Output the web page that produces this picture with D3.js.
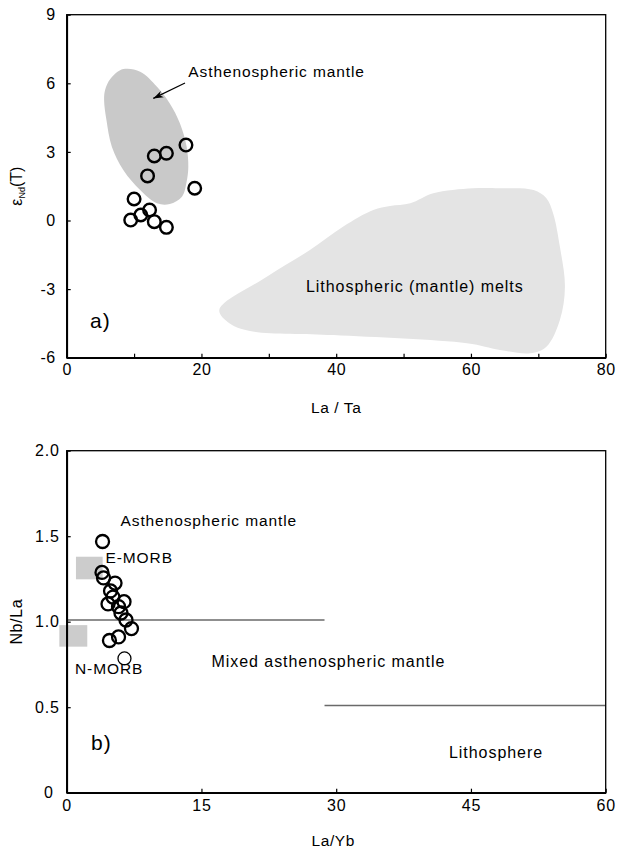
<!DOCTYPE html>
<html>
<head>
<meta charset="utf-8">
<script src="https://cdn.jsdelivr.net/npm/d3@7"></script>
<style>
  html, body { margin: 0; padding: 0; background: #fff; }
  svg text { font-family: "Liberation Sans", Arial, sans-serif; fill: #000; }
</style>
</head>
<body>
<svg id="chart" width="617" height="851"></svg>
<script>
// ---- Panel a: epsilon Nd(T) vs La/Ta ----
const laTa   = [17.7, 14.8, 13.0, 12.0, 19.0, 10.0, 12.3, 11.0, 9.5, 13.0, 14.8];
const epsNd  = [3.30, 2.94, 2.82, 1.95, 1.41, 0.94, 0.46, 0.24, 0.02, -0.05, -0.30];

// Asthenospheric mantle field outline (La/Ta, eNd)
const asthenoX = [8.4, 10.9, 13.4, 15.3, 16.8, 17.8, 18.05, 17.8, 17.1, 15.3, 13.4, 10.9, 8.4, 6.7, 5.9, 5.55, 5.7, 6.5];
const asthenoY = [6.62, 6.51, 5.85, 5.12, 4.25, 3.23, 2.35, 1.70, 1.04, 0.72, 0.75, 1.33, 2.21, 3.23, 4.39, 5.27, 5.71, 6.20];

// Lithospheric (mantle) melts field outline
const lithoX = [22.65, 24.2, 27.2, 39.6, 59.4, 64.3, 68.8, 71.2, 73.2, 73.95, 73.2, 72.2, 71.2, 69.3, 64.3, 60.3, 54.4, 51.0, 48.0, 45.5, 41.0, 36.1, 29.7];
const lithoY = [-3.91, -4.50, -4.83, -5.01, -5.37, -5.66, -5.81, -5.52, -4.35, -2.89, -1.15, 0.31, 0.97, 1.33, 1.41, 1.41, 1.19, 0.75, 0.63, 0.46, -0.27, -1.29, -2.46];

const xTicksA = [0, 10, 20, 30, 40, 50, 60, 70, 80];
const yTicksA = [9, 6, 3, 0, -3, -6];

// ---- Panel b: Nb/La vs La/Yb ----
const laYb = [3.99, 3.93, 4.10, 5.38, 4.88, 5.15, 4.60, 6.38, 5.77, 6.04, 6.60, 7.21, 4.76, 5.77, 6.43];
const nbLa = [1.469, 1.288, 1.256, 1.226, 1.180, 1.144, 1.104, 1.117, 1.088, 1.051, 1.010, 0.960, 0.890, 0.911, 0.785];

// Reference boxes: [La/Yb min, La/Yb max, Nb/La min, Nb/La max]
const morbNames = ["E-MORB", "N-MORB"];
const morbBoxes = [[1.03, 4.0, 1.248, 1.38], [-0.82, 2.29, 0.854, 0.98]];

// Boundary lines: [La/Yb start, La/Yb end, Nb/La]
const boundaries = [[0, 28.7, 1.01], [28.7, 60, 0.51]];

const xTicksB = [0, 15, 30, 45, 60];
const yTicksB = [2.0, 1.5, 1.0, 0.5, 0];

const svg = d3.select("#chart");
const left = 66.7, right = 605.7;

// ---------- Panel a ----------
const xA = d3.scaleLinear().domain([0, 80]).range([left, right]);
const yA = d3.scaleLinear().domain([-6, 9]).range([357.7, 14.7]);
const gA = svg.append("g");

const closedCurve = d3.line().curve(d3.curveCatmullRomClosed.alpha(0.5));

gA.append("path")
  .attr("d", closedCurve(lithoX.map((x, i) => [xA(x), yA(lithoY[i])])))
  .attr("fill", "#e4e4e4");
gA.append("path")
  .attr("d", closedCurve(asthenoX.map((x, i) => [xA(x), yA(asthenoY[i])])))
  .attr("fill", "#c9c9c9");

// frame
gA.append("rect")
  .attr("x", left).attr("y", yA(9))
  .attr("width", right - left).attr("height", yA(-6) - yA(9))
  .attr("fill", "none").attr("stroke", "#000").attr("stroke-width", 1.3);

const axA = gA.append("g").attr("transform", `translate(0,${yA(-6)})`)
  .call(d3.axisBottom(xA).tickValues(xTicksA).tickSizeInner(-4).tickSizeOuter(0).tickPadding(6)
    .tickFormat(d => d % 20 === 0 ? String(d) : ""));
const ayA = gA.append("g").attr("transform", `translate(${left},0)`)
  .call(d3.axisLeft(yA).tickValues(yTicksA).tickSizeInner(-4).tickSizeOuter(0).tickPadding(11)
    .tickFormat(d => String(d)));

[axA, ayA].forEach(a => {
  a.select(".domain").attr("stroke", "#000").attr("stroke-width", 1.8);
  a.selectAll(".tick line").attr("stroke", "#000").attr("stroke-width", 1.2);
  a.selectAll(".tick text").attr("font-size", 16).attr("letter-spacing", 0.5)
    .attr("font-family", "Liberation Sans, Arial, sans-serif");
});

gA.selectAll("circle.pt").data(laTa).join("circle")
  .attr("class", "pt")
  .attr("cx", d => xA(d)).attr("cy", (d, i) => yA(epsNd[i]))
  .attr("r", 6.3).attr("fill", "none").attr("stroke", "#000").attr("stroke-width", 2.4);

// arrow pointing to the asthenospheric field
const arrowFrom = [xA(17.56), yA(6.01)], arrowTo = [xA(12.85), yA(5.34)];
gA.append("line")
  .attr("x1", arrowFrom[0]).attr("y1", arrowFrom[1])
  .attr("x2", arrowTo[0]).attr("y2", arrowTo[1])
  .attr("stroke", "#000").attr("stroke-width", 1.2);
{
  const ang = Math.atan2(arrowTo[1] - arrowFrom[1], arrowTo[0] - arrowFrom[0]);
  const len = 10, half = 3.5;
  const bx = arrowTo[0] - len * Math.cos(ang), by = arrowTo[1] - len * Math.sin(ang);
  const px = -Math.sin(ang) * half, py = Math.cos(ang) * half;
  gA.append("path")
    .attr("d", `M${arrowTo[0]},${arrowTo[1]} L${bx + px},${by + py} L${bx + 3 * Math.cos(ang)},${by + 3 * Math.sin(ang)} L${bx - px},${by - py} Z`)
    .attr("fill", "#000");
}

gA.append("text").attr("x", 188.3).attr("y", 76.5)
  .attr("font-size", 15.5).attr("letter-spacing", 0.9).text("Asthenospheric mantle");
gA.append("text").attr("x", 306).attr("y", 291.5)
  .attr("font-size", 16).attr("letter-spacing", 0.95).text("Lithospheric (mantle) melts");
gA.append("text").attr("x", 90).attr("y", 328)
  .attr("font-size", 21).attr("letter-spacing", 1).text("a)");

gA.append("text").attr("x", (left + right) / 2).attr("y", 413)
  .attr("text-anchor", "middle").attr("font-size", 15.5).attr("letter-spacing", 0.6).text("La / Ta");

const yTitleA = gA.append("text")
  .attr("transform", `translate(22,${(yA(9) + yA(-6)) / 2}) rotate(-90)`)
  .attr("text-anchor", "middle").attr("font-size", 16);
yTitleA.append("tspan").text("ε");
yTitleA.append("tspan").attr("font-size", 9).attr("dy", 3).text("Nd");
yTitleA.append("tspan").attr("dy", -3).text("(T)");

// ---------- Panel b ----------
const xB = d3.scaleLinear().domain([0, 60]).range([left, right]);
const yB = d3.scaleLinear().domain([0, 2]).range([792.7, 450.7]);
const gB = svg.append("g");

gB.selectAll("rect.morb").data(morbBoxes).join("rect")
  .attr("class", "morb")
  .attr("x", d => xB(d[0])).attr("y", d => yB(d[3]))
  .attr("width", d => xB(d[1]) - xB(d[0])).attr("height", d => yB(d[2]) - yB(d[3]))
  .attr("fill", "#cccccc");

gB.selectAll("line.bound").data(boundaries).join("line")
  .attr("class", "bound")
  .attr("x1", d => xB(d[0])).attr("x2", d => xB(d[1]))
  .attr("y1", d => yB(d[2])).attr("y2", d => yB(d[2]))
  .attr("stroke", "#6a6a6a").attr("stroke-width", 1.4);

gB.append("rect")
  .attr("x", left).attr("y", yB(2))
  .attr("width", right - left).attr("height", yB(0) - yB(2))
  .attr("fill", "none").attr("stroke", "#000").attr("stroke-width", 1.3);

const axB = gB.append("g").attr("transform", `translate(0,${yB(0)})`)
  .call(d3.axisBottom(xB).tickValues(xTicksB).tickSizeInner(-4).tickSizeOuter(0).tickPadding(7)
    .tickFormat(d => String(d)));
const ayB = gB.append("g").attr("transform", `translate(${left},0)`)
  .call(d3.axisLeft(yB).tickValues(yTicksB).tickSizeInner(-4).tickSizeOuter(0).tickPadding(7)
    .tickFormat(d => d === 0 ? "0" : d3.format(".1f")(d)));

[axB, ayB].forEach(a => {
  a.select(".domain").attr("stroke", "#000").attr("stroke-width", 1.8);
  a.selectAll(".tick line").attr("stroke", "#000").attr("stroke-width", 1.2);
  a.selectAll(".tick text").attr("font-size", 16).attr("letter-spacing", 0.8)
    .attr("font-family", "Liberation Sans, Arial, sans-serif");
});
ayB.selectAll(".tick text").filter(d => d === 0).attr("x", -13);

gB.selectAll("circle.pt").data(laYb).join("circle")
  .attr("class", "pt")
  .attr("cx", d => xB(d)).attr("cy", (d, i) => yB(nbLa[i]))
  .attr("r", 6.5).attr("fill", "none").attr("stroke", "#000")
  .attr("stroke-width", (d, i) => i === laYb.length - 1 ? 1.3 : 2.3);

gB.append("text").attr("x", 120.5).attr("y", 526)
  .attr("font-size", 15.5).attr("letter-spacing", 0.9).text("Asthenospheric mantle");
gB.append("text").attr("x", 105.5).attr("y", 562.5)
  .attr("font-size", 15.5).attr("letter-spacing", 0.9).text(morbNames[0]);
gB.append("text").attr("x", 75).attr("y", 673.5)
  .attr("font-size", 15.5).attr("letter-spacing", 0.9).text(morbNames[1]);
gB.append("text").attr("x", 211.5).attr("y", 667)
  .attr("font-size", 16).attr("letter-spacing", 0.95).text("Mixed asthenospheric mantle");
gB.append("text").attr("x", 449).attr("y", 757.5)
  .attr("font-size", 16).attr("letter-spacing", 0.95).text("Lithosphere");
gB.append("text").attr("x", 91).attr("y", 750)
  .attr("font-size", 21).attr("letter-spacing", 1).text("b)");

gB.append("text").attr("x", (left + right) / 2 - 3).attr("y", 846)
  .attr("text-anchor", "middle").attr("font-size", 15.5).attr("letter-spacing", 0.6).text("La/Yb");
gB.append("text")
  .attr("transform", `translate(22,${(yB(0) + yB(2)) / 2}) rotate(-90)`)
  .attr("text-anchor", "middle").attr("font-size", 16).attr("letter-spacing", 0.6).text("Nb/La");
</script>
</body>
</html>
